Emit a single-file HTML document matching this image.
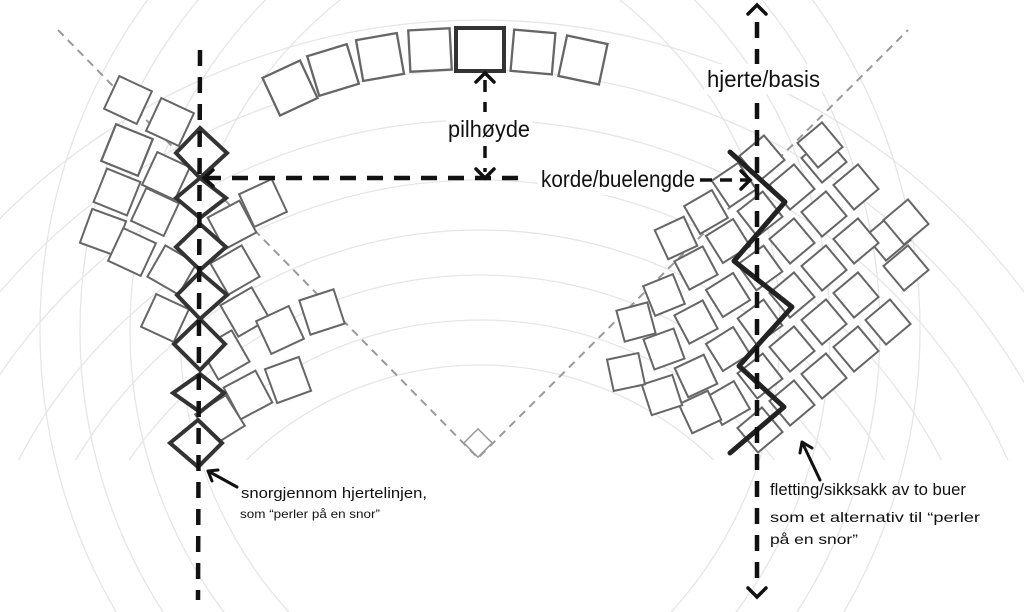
<!DOCTYPE html>
<html><head><meta charset="utf-8"><style>
html,body{margin:0;padding:0;background:#fff;overflow:hidden;width:1024px;height:612px}
svg{display:block}
text{font-family:"Liberation Sans",sans-serif;fill:#111}
</style></head><body>
<svg width="1024" height="612" viewBox="0 0 1024 612" xmlns="http://www.w3.org/2000/svg">
<defs>
<rect id="sq" x="-18" y="-18" width="36" height="36" fill="#fff" stroke="#666" stroke-width="2"/>
<rect id="sqs" x="-16" y="-16" width="32" height="32" fill="#fff" stroke="#666" stroke-width="2"/>
<clipPath id="cl"><rect x="0" y="0" width="470" height="612"/></clipPath>
<clipPath id="cr"><rect x="490" y="0" width="534" height="612"/></clipPath>
<clipPath id="ct"><rect x="0" y="0" width="1024" height="460"/></clipPath>
</defs>
<g fill="none" stroke="#e6e6e6" stroke-width="1.3" clip-path="url(#ct)">
<circle cx="480" cy="700" r="680"/>
<circle cx="480" cy="700" r="630"/>
<circle cx="480" cy="700" r="580"/>
<circle cx="480" cy="700" r="520"/>
<circle cx="480" cy="700" r="470"/>
<circle cx="480" cy="700" r="425"/>
<circle cx="480" cy="700" r="380"/>
<circle cx="480" cy="700" r="335"/>
</g>
<g fill="none" stroke="#e6e6e6" stroke-width="1.3" clip-path="url(#cl)">
<circle cx="600" cy="330" r="560"/>
<circle cx="600" cy="330" r="520"/>
<circle cx="600" cy="330" r="470"/>
<circle cx="600" cy="330" r="420"/>
</g>
<g fill="none" stroke="#e6e6e6" stroke-width="1.3" clip-path="url(#cr)">
<circle cx="360" cy="330" r="560"/>
<circle cx="360" cy="330" r="520"/>
<circle cx="360" cy="330" r="470"/>
<circle cx="360" cy="330" r="420"/>
</g>
<g stroke="#999" stroke-width="2" stroke-dasharray="8,6" fill="none">
<path d="M58,30 L478,458 L908,30"/>
</g>
<rect x="-10" y="-10" width="20" height="20" transform="translate(478,443) rotate(45)" fill="#fff" stroke="#999" stroke-width="1.5"/>

<g>
<use href="#sq" transform="translate(290,88) rotate(-25) scale(1.15)"/>
<use href="#sq" transform="translate(333,70) rotate(-17) scale(1.15)"/>
<use href="#sq" transform="translate(380,57) rotate(-10) scale(1.15)"/>
<use href="#sq" transform="translate(430,50) rotate(-3) scale(1.15)"/>
<use href="#sq" transform="translate(533,52) rotate(5) scale(1.15)"/>
<use href="#sq" transform="translate(583,60) rotate(12) scale(1.15)"/>
<rect x="456" y="28" width="48" height="43" fill="#fff" stroke="#333" stroke-width="4"/>
</g>

<g>
<use href="#sq" transform="translate(128,100) rotate(25)"/>
<use href="#sq" transform="translate(170,122) rotate(25)"/>
<use href="#sq" transform="translate(127,150) rotate(22) scale(1.1)"/>
<use href="#sq" transform="translate(166,176) rotate(25)"/>
<use href="#sq" transform="translate(117,192) rotate(22)"/>
<use href="#sq" transform="translate(155,212) rotate(25)"/>
<use href="#sq" transform="translate(103,232) rotate(20)"/>
<use href="#sq" transform="translate(132,252) rotate(25)"/>
<use href="#sq" transform="translate(172,270) rotate(30)"/>
<use href="#sq" transform="translate(165,318) rotate(25)"/>
<use href="#sq" transform="translate(263,203) rotate(-25)"/>
<use href="#sq" transform="translate(232,225) rotate(-28)"/>
<use href="#sq" transform="translate(235,270) rotate(-30)"/>
<use href="#sq" transform="translate(245,312) rotate(-30)"/>
<use href="#sq" transform="translate(280,330) rotate(-25)"/>
<use href="#sq" transform="translate(322,312) rotate(-18)"/>
<use href="#sq" transform="translate(288,380) rotate(-20)"/>
<use href="#sq" transform="translate(248,395) rotate(-28)"/>
<use href="#sq" transform="translate(220,420) rotate(-32)"/>
<use href="#sq" transform="translate(225,355) rotate(-30)"/>
</g>
<g fill="#fff" stroke="#333" stroke-width="4">
<path d="M200,128 L227,153 L200,178 L176,153Z"/>
<path d="M200,178 L226,198 L200,218 L176,198Z"/>
<path d="M200,224 L226,247 L200,270 L176,247Z"/>
<path d="M200,272 L227,295 L200,319 L177,295Z"/>
<path d="M200,319 L225,344 L200,370 L174,344Z"/>
<path d="M200,374 L224,393 L200,412 L173,393Z"/>
<path d="M198,420 L222,443 L198,467 L170,443Z"/>
</g>

<g>
<use href="#sqs" transform="translate(760,430) rotate(-40)"/>
<use href="#sqs" transform="translate(728,403) rotate(-30)"/>
<use href="#sqs" transform="translate(696,376) rotate(-25)"/>
<use href="#sqs" transform="translate(664,349) rotate(-20)"/>
<use href="#sqs" transform="translate(636,322) rotate(-15)"/>
<use href="#sqs" transform="translate(700,412) rotate(-25)"/>
<use href="#sqs" transform="translate(662,395) rotate(-18)"/>
<use href="#sqs" transform="translate(626,372) rotate(-12)"/>
<use href="#sqs" transform="translate(792,403) rotate(-40)"/>
<use href="#sqs" transform="translate(760,376) rotate(-38)"/>
<use href="#sqs" transform="translate(728,349) rotate(-32)"/>
<use href="#sqs" transform="translate(696,322) rotate(-28)"/>
<use href="#sqs" transform="translate(664,295) rotate(-22)"/>
<use href="#sqs" transform="translate(824,376) rotate(-40)"/>
<use href="#sqs" transform="translate(792,349) rotate(-40)"/>
<use href="#sqs" transform="translate(760,322) rotate(-36)"/>
<use href="#sqs" transform="translate(728,295) rotate(-32)"/>
<use href="#sqs" transform="translate(696,268) rotate(-28)"/>
<use href="#sqs" transform="translate(676,238) rotate(-25)"/>
<use href="#sqs" transform="translate(856,349) rotate(-40)"/>
<use href="#sqs" transform="translate(824,322) rotate(-40)"/>
<use href="#sqs" transform="translate(792,295) rotate(-40)"/>
<use href="#sqs" transform="translate(760,268) rotate(-36)"/>
<use href="#sqs" transform="translate(728,241) rotate(-32)"/>
<use href="#sqs" transform="translate(706,212) rotate(-30)"/>
<use href="#sqs" transform="translate(888,322) rotate(-40)"/>
<use href="#sqs" transform="translate(856,295) rotate(-40)"/>
<use href="#sqs" transform="translate(824,268) rotate(-40)"/>
<use href="#sqs" transform="translate(792,241) rotate(-40)"/>
<use href="#sqs" transform="translate(760,214) rotate(-38)"/>
<use href="#sqs" transform="translate(734,185) rotate(-34)"/>
<use href="#sqs" transform="translate(906,268) rotate(-40)"/>
<use href="#sqs" transform="translate(888,238) rotate(-40)"/>
<use href="#sqs" transform="translate(856,241) rotate(-40)"/>
<use href="#sqs" transform="translate(824,214) rotate(-40)"/>
<use href="#sqs" transform="translate(792,187) rotate(-40)"/>
<use href="#sqs" transform="translate(762,158) rotate(-40)"/>
<use href="#sqs" transform="translate(906,222) rotate(-40)"/>
<use href="#sqs" transform="translate(856,187) rotate(-40)"/>
<use href="#sqs" transform="translate(824,160) rotate(-40)"/>
<use href="#sqs" transform="translate(820,145) rotate(-40)"/>
</g>
<polyline points="730,152 785,202 734,261 792,307 739,366 784,407 730,453" fill="none" stroke="#222" stroke-width="5" stroke-linejoin="round" stroke-linecap="round"/>

<g stroke="#111" stroke-width="4.5" stroke-dasharray="16,11" fill="none">
<line x1="200" y1="50" x2="198" y2="600"/>
<line x1="205" y1="178" x2="520" y2="178"/>
<line x1="757" y1="22" x2="757" y2="588"/>
<line x1="700" y1="180" x2="748" y2="180" stroke-dasharray="12,8" stroke-width="3.5"/>
<line x1="485" y1="80" x2="485" y2="172" stroke-dasharray="12,10" stroke-width="3.5"/>
</g>
<g stroke="#111" stroke-width="3.5" fill="none" stroke-linecap="round">
<path d="M748,14 L757,5 L766,14"/>
<path d="M748,588 L757,597 L766,588"/>
<path d="M476,82 L485,73 L494,82"/>
<path d="M476,169 L485,178 L494,169"/>
<path d="M741,171 L750,180 L741,189"/>
<path d="M213,170 L204,178 L213,186"/>
<path d="M237,487 L208,471 M208,471 L212,481 M208,471 L218,470" stroke-width="3"/>
<path d="M820,480 L802,442 M802,442 L800,453 M802,442 L812,448" stroke-width="3"/>
</g>

<rect x="446" y="112" width="86" height="30" fill="#fff"/>
<rect x="538" y="165" width="160" height="30" fill="#fff"/>
<rect x="704" y="64" width="118" height="30" fill="#fff"/>
<g>
<text x="448" y="137" font-size="23" textLength="82" lengthAdjust="spacingAndGlyphs">pilhøyde</text>
<text x="541" y="187" font-size="23" textLength="154" lengthAdjust="spacingAndGlyphs">korde/buelengde</text>
<text x="707" y="87" font-size="23" textLength="113" lengthAdjust="spacingAndGlyphs">hjerte/basis</text>
<text x="241" y="498" font-size="15" textLength="186" lengthAdjust="spacingAndGlyphs">snorgjennom hjertelinjen,</text>
<text x="240" y="518" font-size="12" textLength="140" lengthAdjust="spacingAndGlyphs">som “perler på en snor”</text>
<text x="770" y="495" font-size="17" textLength="196" lengthAdjust="spacingAndGlyphs">fletting/sikksakk av to buer</text>
<text x="770" y="522" font-size="14" textLength="210" lengthAdjust="spacingAndGlyphs">som  et alternativ til “perler</text>
<text x="770" y="544" font-size="14" textLength="88" lengthAdjust="spacingAndGlyphs">på en snor”</text>
</g>
</svg>
</body></html>
